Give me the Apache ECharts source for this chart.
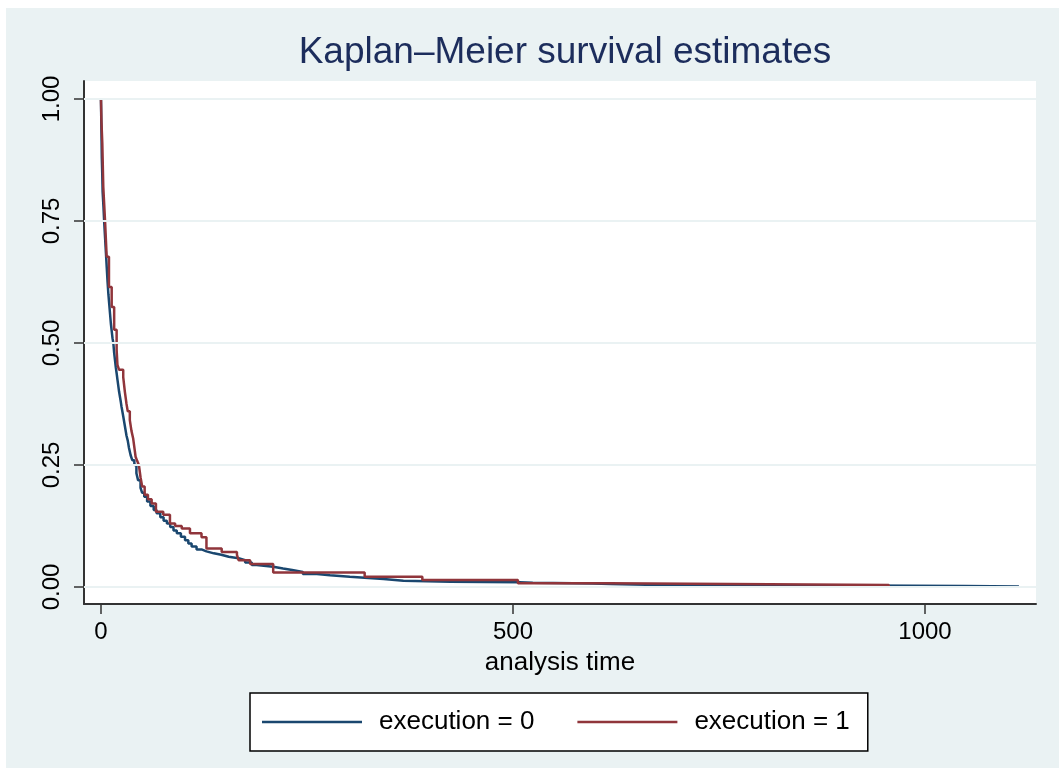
<!DOCTYPE html>
<html>
<head>
<meta charset="utf-8">
<script src="https://cdn.jsdelivr.net/npm/echarts@6/dist/echarts.min.js"></script>
<style>
html,body{margin:0;padding:0;background:#fff;}
#chart{width:1059px;height:769px;}
</style>
</head>
<body>
<div id="chart"></div>
<script>
// ---- data ----
var titleText = 'Kaplan\u2013Meier survival estimates';
var xTitle = 'analysis time';
var seriesNames = ['execution = 0', 'execution = 1'];
var xTicks = [0, 500, 1000];
var yTicks = [0, 0.25, 0.5, 0.75, 1];

// execution = 0 : [time, survival]
var exec0 = [
  [0,1.0],[0.5,0.94],[1,0.88],[1.5,0.85],[2,0.81],[3,0.78],[4,0.745],[5,0.715],
  [6,0.685],[7,0.655],[8,0.625],[9,0.60],[10,0.58],[11,0.56],[12,0.54],[13,0.525],
  [14,0.51],[15,0.50],[16,0.48],[17,0.465],[18,0.45],[19,0.438],[20,0.425],[22,0.40],
  [24,0.38],[25,0.369],[27,0.35],[29,0.33],[31,0.31],[32.5,0.30],[34,0.285],[36,0.27],
  [38,0.26],[40.5,0.25],[43,0.233],[45,0.219],[48,0.203],[50,0.193],[52.5,0.185],
  [56,0.175],[60,0.166],[64,0.158],[67.5,0.151],[72,0.143],[76,0.136],[80,0.130],
  [84,0.123],[88,0.116],[92,0.110],[97,0.103],[102,0.096],[106,0.089],[110,0.083],
  [116,0.077],[122,0.073],[128,0.069],[137,0.066],[146,0.062],[155,0.059],[167,0.055],
  [175,0.050],[183,0.045],[189,0.0417],[209,0.038],[221,0.035],[232,0.031],[245,0.0266],
  [262,0.024],[278,0.0225],[290,0.021],[302,0.019],[320,0.0164],[343,0.013],[367,0.011],
  [424,0.0096],[508,0.0085],[524,0.007],[597,0.006],[618,0.004],[676,0.003],[923,0.002],
  [1048,0.001],[1114,0.001]
];
// execution = 1 : [time, survival]
var exec1 = [
  [0,1.0],[0.5,0.957],[1.6,0.91],[2.8,0.82],[4.9,0.752],[6.9,0.677],[9.7,0.615],
  [13,0.574],[16,0.527],[19,0.486],[20,0.455],[22,0.445],[27,0.43],[29,0.40],[31,0.375],
  [32.5,0.36],[35,0.342],[37,0.32],[39,0.305],[41,0.28],[42,0.267],[44,0.258],[46,0.25],
  [48,0.225],[50,0.206],[53,0.189],[57,0.18],[61.5,0.171],[66.7,0.154],[75.6,0.148],
  [83.7,0.130],[90,0.125],[98,0.120],[108,0.110],[122,0.102],[128,0.079],[146.5,0.072],
  [165,0.066],[167,0.055],[181,0.047],[209,0.030],[320,0.021],[390,0.0143],[506,0.0075],
  [617,0.004],[956,0.0]
];

var navy = '#1a476f', maroon = '#90353b', bg = '#eaf2f3';
var fontFam = '"Liberation Sans", Arial, Helvetica, sans-serif';

var chart = echarts.init(document.getElementById('chart'), null, {renderer:'canvas'});
var option = {
  backgroundColor: '#fff',
  animation: false,
  graphic: [{
    type: 'rect', z: -10, silent: true,
    shape: {x: 6, y: 8, width: 1053, height: 760},
    style: {fill: bg}
  }],
  title: {
    text: titleText,
    left: 560, top: 29, textAlign: 'center',
    textStyle: {fontFamily: fontFam, fontWeight: 'normal', fontSize: 37, color: '#1c2d5c'}
  },
  grid: {
    left: 84, top: 81, width: 952, height: 523,
    show: true, backgroundColor: '#fff', borderWidth: 0
  },
  legend: {
    left: 250, top: 693,
    padding: [16, 18, 16, 12],
    backgroundColor: '#fff', borderColor: '#000', borderWidth: 1.5, borderRadius: 0,
    itemWidth: 100, itemHeight: 2.5, itemGap: 43,
    icon: 'rect',
    data: seriesNames,
    textStyle: {fontFamily: fontFam, fontSize: 26, color: '#000', padding: [0,0,0,12]}
  },
  xAxis: {
    type: 'value', min: -20.6, max: 1134.7,
    name: xTitle, nameLocation: 'middle', nameGap: 46,
    nameTextStyle: {fontFamily: fontFam, fontSize: 26, color: '#000'},
    axisLine: {show: true, onZero: false, lineStyle: {color: '#333', width: 2}},
    axisTick: {show: true, customValues: xTicks, length: 10, lineStyle: {color: '#333', width: 1.5}},
    axisLabel: {
      customValues: xTicks, fontFamily: fontFam, fontSize: 24, color: '#000', margin: 16,
      formatter: function (v) { return String(v); }
    },
    splitLine: {show: false}
  },
  yAxis: {
    type: 'value', min: -0.0348, max: 1.0369,
    axisLine: {show: true, onZero: false, lineStyle: {color: '#333', width: 2}},
    axisTick: {show: true, customValues: yTicks, length: 10, lineStyle: {color: '#333', width: 1.5}},
    axisLabel: {
      customValues: yTicks, rotate: 90, fontFamily: fontFam, fontSize: 24, color: '#000', margin: 20,
      formatter: function (v) { return v.toFixed(2); }
    },
    splitLine: {show: false}
  },
  series: [
    {
      type: 'line', name: '_grid', data: [], z: 1, silent: true,
      markLine: {
        silent: true, symbol: ['none','none'], label: {show: false},
        lineStyle: {color: bg, width: 2, type: 'solid'},
        animation: false,
        data: yTicks.map(function (v) { return {yAxis: v}; })
      }
    },
    {
      type: 'line', name: seriesNames[0], data: exec0, step: 'end', z: 3,
      showSymbol: false, symbol: 'none', color: navy,
      lineStyle: {color: navy, width: 2.5}
    },
    {
      type: 'line', name: seriesNames[1], data: exec1, step: 'end', z: 4,
      showSymbol: false, symbol: 'none', color: maroon,
      lineStyle: {color: maroon, width: 2.5}
    }
  ]
};
chart.setOption(option);
</script>
</body>
</html>
